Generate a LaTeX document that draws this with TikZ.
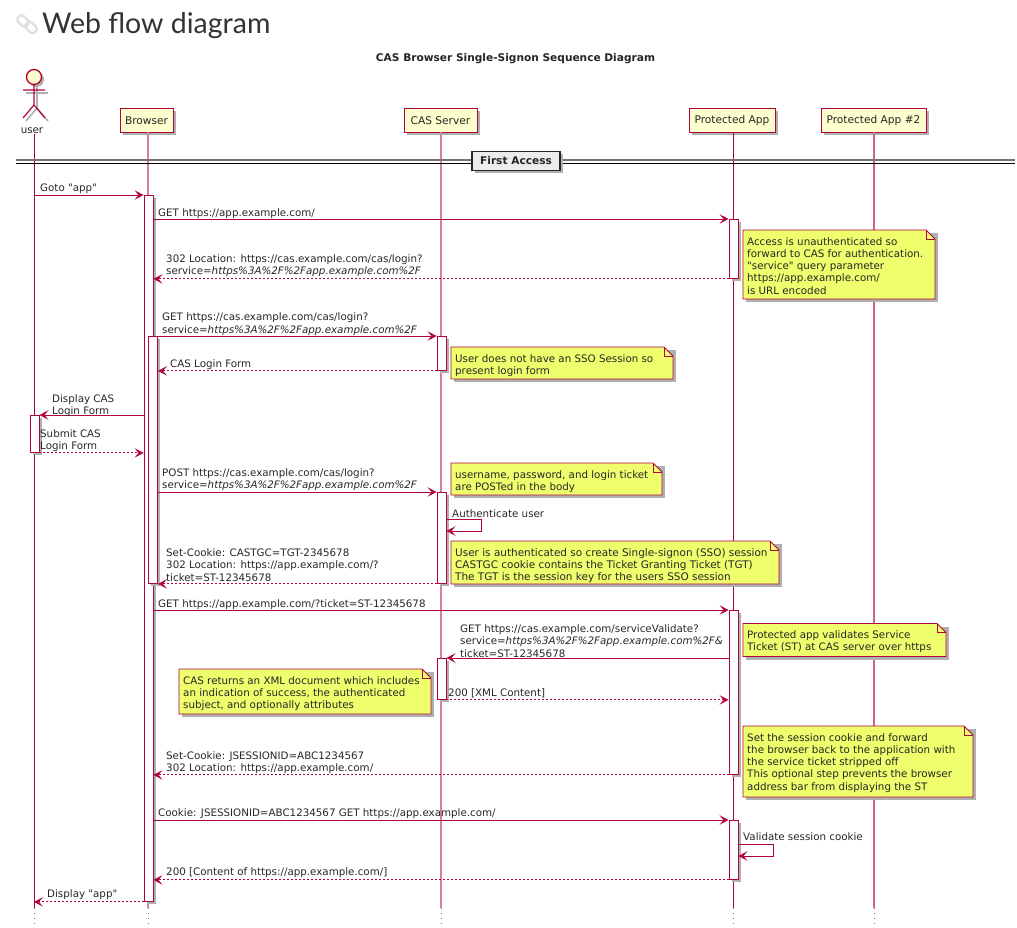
\documentclass[tikz,border=0pt]{standalone}
\usepackage{fontspec}
\setmainfont[Ligatures=TeXOff]{DejaVu Sans}
\newfontfamily\titlefont{Lato}
\usetikzlibrary{arrows.meta,shadows}
\definecolor{umlred}{HTML}{B0043C}
\definecolor{umlbox}{HTML}{FEFECE}
\definecolor{umlnote}{HTML}{EEFE6C}
\definecolor{umlshadow}{HTML}{B0B0B0}
\definecolor{headgray}{HTML}{333333}
\newcommand{\widertext}{\fontsize{10.45}{12.3}\selectfont}

% note with a folded corner: name, left, top, right, bottom, text
\newcommand{\cornernote}[6]{%
	\fill[umlshadow] ({#2+3},{-#3-3}) rectangle ({#4+3},{-#5-3});
	\filldraw[draw=umlred,fill=umlnote,line width=.8pt] (#2,-#3) -- ({#4-9},-#3) -- (#4,{-#3-9}) -- (#4,-#5) -- (#2,-#5) -- cycle;
	\draw[draw=umlred,line width=.6pt] ({#4-9},-#3) -- ({#4-9},{-#3-9}) -- (#4,{-#3-9});
	\node[notetext] (#1) at (#2,-#3) {#6};
}

\begin{document}
\begin{tikzpicture}[x=1pt,y=1pt,>={Stealth[length=9pt,width=9.5pt,inset=4pt]},
	party/.style = {draw=umlred,fill=umlbox,line width=1pt,minimum height=24pt,inner sep=0pt,text=black!85,font=\fontsize{10.6}{12.3}\selectfont,drop shadow={shadow xshift=2.5pt,shadow yshift=-2.5pt,fill=umlshadow,opacity=1}},
	lifeline/.style = {draw=umlred,line width=.9pt},
	softline/.style = {draw=umlred!50,line width=1.6pt},
	actbar/.style = {draw=umlred,fill=white,line width=.9pt,minimum width=9pt,inner sep=0pt,anchor=north,drop shadow={shadow xshift=2.5pt,shadow yshift=-2.5pt,fill=umlshadow,opacity=1}},
	msg/.style = {draw=umlred,line width=.9pt,->},
	reply/.style = {msg,dash pattern=on 2pt off 2pt},
	msgtext/.style = {anchor=south west,inner sep=0pt,align=left,text=black!85,font=\fontsize{10.3}{12.3}\selectfont},
	notetext/.style = {anchor=north west,inner xsep=4pt,inner ysep=7pt,align=left,text=black!85,font=\fontsize{10.3}{12.3}\selectfont}
	]
	\useasboundingbox (0,0) rectangle (1017,-928);
	%HEADING
	\draw[line width=2.4pt,draw=black!12,rounded corners=3pt,rotate around={-45:(23,-21)}] (17,-17) rectangle (29,-25);
	\draw[line width=2.4pt,draw=black!12,rounded corners=3pt,rotate around={-45:(31,-27.5)}] (25,-23.5) rectangle (37,-31.5);
	\node[anchor=base west,inner sep=0pt,text=headgray,font=\titlefont\fontsize{28.5}{32}\selectfont] (heading) at (42,-33.5) {Web flow diagram};
	\node[text=black!85,font=\bfseries\fontsize{10.6}{12}\selectfont,inner sep=0pt] (diagtitle) at (515.5,-58.5) {CAS Browser Single-Signon Sequence Diagram};
	%ATTORI
	\draw[umlshadow,line width=1.6pt,shift={(3,-3)}] (34,-84) -- (34,-105) (23,-90) -- (45,-90) (23,-118) -- (34,-105) -- (45,-118);
	\node[circle,draw=umlred,fill=umlbox,line width=1.3pt,minimum size=15pt,inner sep=0pt,drop shadow={shadow xshift=2.5pt,shadow yshift=-2.5pt,fill=umlshadow,opacity=1}] (userhead) at (34,-77) {};
	\draw[umlred,line width=1.2pt] (userhead.south) -- (34,-105) (23,-90) -- (45,-90) (23,-118) -- (34,-105) -- (45,-118);
	\node[text=black!85,font=\fontsize{10.3}{12.3}\selectfont,inner sep=0pt] (user) at (32,-130.5) {user};
	\node[party,minimum width=53pt] (browser) at (146.5,-120.5) {Browser};
	\node[party,minimum width=73pt] (casserver) at (440.5,-120.5) {CAS Server};
	\node[party,minimum width=86pt] (app) at (732,-120.5) {Protected App};
	\node[party,minimum width=105pt] (apptwo) at (873.5,-120.5) {Protected App \#2};
	\coordinate (lifeend) at (0,-908);
	\coordinate (dotend) at (0,-925);
	%LINEE DI VITA
	\draw[lifeline] (userhead |- user.south) -- (userhead |- lifeend);
	\draw[softline] (148,-132) -- (148,-908);
	\draw[softline] (441,-132) -- (441,-908);
	\draw[lifeline] (733,-132) -- (733,-908);
	\draw[softline,line width=1.3pt,draw=umlred!62] (874,-132) -- (874,-908);
	\foreach \partx in {34,148,441,733,874}
		\draw[umlred!70,line width=.9pt,dash pattern=on 1pt off 4pt] (\partx,-908) -- (\partx,-925);
	%SEPARATORE
	\draw[black!55,line width=1.2pt] (16,-160) -- (1015,-160);
	\draw[black,line width=1.2pt] (16,-163.5) -- (1015,-163.5);
	\node[draw=black!85,fill=black!7,line width=1.6pt,minimum width=88pt,minimum height=19pt,inner sep=0pt,text=black!85,font=\bfseries\fontsize{10.6}{12}\selectfont,drop shadow={shadow xshift=2.5pt,shadow yshift=-2.5pt,fill=umlshadow,opacity=1}] (firstaccess) at (516,-161) {First Access\hspace{7pt}};
	%ATTIVAZIONI
	\node[actbar,minimum height=706pt] (brbar) at (148.5,-195) {};
	\node[actbar,minimum height=247pt] (brbartwo) at (153,-336) {};
	\node[actbar,minimum height=37pt] (userbar) at (34.5,-415) {};
	\node[actbar,minimum height=59pt] (appbar) at (733.5,-219) {};
	\node[actbar,minimum height=164pt] (appbartwo) at (733.5,-610) {};
	\node[actbar,minimum height=59pt] (appbarthree) at (733.5,-820) {};
	\node[actbar,minimum height=34pt] (casbar) at (441.5,-336) {};
	\node[actbar,minimum height=91pt] (casbartwo) at (441.5,-492) {};
	\node[actbar,minimum height=41pt] (casbarthree) at (441.5,-658) {};
	%NOTE
	\cornernote{noteaccess}{743}{230}{935}{299}{Access is unauthenticated so\\forward to CAS for authentication.\\"service" query parameter\\https://app.example.com/\\is URL encoded}
	\cornernote{notesso}{451}{347}{673}{379}{User does not have an SSO Session so\\present login form}
	\cornernote{notepost}{451}{463}{662}{495}{username, password, and login ticket\\are POSTed in the body}
	\cornernote{notetgt}{451}{541}{779}{584}{\widertext User is authenticated so create Single-signon (SSO) session\\\widertext CASTGC cookie contains the Ticket Granting Ticket (TGT)\\\widertext The TGT is the session key for the users SSO session}
	\cornernote{notevalidate}{743}{623.5}{946}{656.5}{Protected app validates Service\\Ticket (ST) at CAS server over https}
	\cornernote{notexml}{179}{669}{431}{714}{CAS returns an XML document which includes\\an indication of success, the authenticated\\subject, and optionally attributes}
	\cornernote{notecookie}{743}{726}{973}{797}{Set the session cookie and forward\\the browser back to the application with\\the service ticket stripped off\\This optional step prevents the browser\\address bar from displaying the ST}
	%MESSAGGI
	\draw[msg] (userhead |- brbar.north west) -- (brbar.north west);
	\node[msgtext] (goto) at (40,-194) {Goto "app"};
	\draw[msg] (brbar.east |- appbar.north west) -- (appbar.north west);
	\node[msgtext] (getapp) at (158,-218.5) {GET https://app.example.com/};
	\draw[reply] (appbar.south west) -- (brbar.east |- appbar.south west);
	\node[msgtext] (redirect) at (166,-277) {302 Location: https://cas.example.com/cas/login?\\service=\textit{https\%3A\%2F\%2Fapp.example.com\%2F}};
	\draw[msg] (brbartwo.north east) -- (casbar.north west);
	\node[msgtext] (getcas) at (162,-335.5) {GET https://cas.example.com/cas/login?\\service=\textit{https\%3A\%2F\%2Fapp.example.com\%2F}};
	\draw[reply] (casbar.south west) -- (brbartwo.east |- casbar.south west);
	\node[msgtext] (loginform) at (170,-370) {CAS Login Form};
	\draw[msg] (brbar.west |- userbar.north east) -- (userbar.north east);
	\node[msgtext] (display) at (52,-417) {Display CAS\\Login Form};
	\draw[reply] (userbar.south east) -- (brbar.west |- userbar.south east);
	\node[msgtext] (submit) at (40,-452) {Submit CAS\\Login Form};
	\draw[msg] (brbartwo.east |- casbartwo.north west) -- (casbartwo.north west);
	\node[msgtext] (post) at (162,-491) {POST https://cas.example.com/cas/login?\\service=\textit{https\%3A\%2F\%2Fapp.example.com\%2F}};
	\coordinate (selfcas) at (0,-519);
	\coordinate (selfcasend) at (0,-531);
	\draw[msg] (casbartwo.east |- selfcas) -- ++(35,0) -- ++(0,-12) -- (casbartwo.east |- selfcasend);
	\node[msgtext] (authenticate) at (452,-518) {Authenticate user};
	\draw[reply] (casbartwo.south west) -- (brbartwo.south east);
	\node[msgtext] (setcookie) at (166,-581.5) {Set-Cookie: CASTGC=TGT-2345678\\302 Location: https://app.example.com/?\\ticket=ST-12345678};
	\draw[msg] (brbar.east |- appbartwo.north west) -- (appbartwo.north west);
	\node[msgtext] (getticket) at (158,-610) {GET https://app.example.com/?ticket=ST-12345678};
	\draw[msg] (appbartwo.west |- casbarthree.north east) -- (casbarthree.north east);
	\node[msgtext] (validate) at (460,-657.5) {GET https://cas.example.com/serviceValidate?\\service=\textit{https\%3A\%2F\%2Fapp.example.com\%2F\&}\\ticket=ST-12345678};
	\draw[reply] (casbarthree.south east) -- (appbartwo.west |- casbarthree.south east);
	\node[msgtext] (xml) at (448,-698) {200 [XML Content]};
	\draw[reply] (appbartwo.south west) -- (brbar.east |- appbartwo.south west);
	\node[msgtext] (session) at (166,-774) {Set-Cookie: JSESSIONID=ABC1234567\\302 Location: https://app.example.com/};
	\draw[msg] (brbar.east |- appbarthree.north west) -- (appbarthree.north west);
	\node[msgtext] (cookie) at (158,-819) {Cookie: JSESSIONID=ABC1234567 GET https://app.example.com/};
	\coordinate (selfapp) at (0,-844);
	\coordinate (selfappend) at (0,-856);
	\draw[msg] (appbarthree.east |- selfapp) -- ++(35,0) -- ++(0,-12) -- (appbarthree.east |- selfappend);
	\node[msgtext] (cookiecheck) at (743,-841) {Validate session cookie};
	\draw[reply] (appbarthree.south west) -- (brbar.east |- appbarthree.south west);
	\node[msgtext] (content) at (166,-878) {200 [Content of https://app.example.com/]};
	\draw[reply] (brbar.south west) -- (userhead |- brbar.south west);
	\node[msgtext] (displayapp) at (47,-900) {Display "app"};
\end{tikzpicture}
\end{document}
